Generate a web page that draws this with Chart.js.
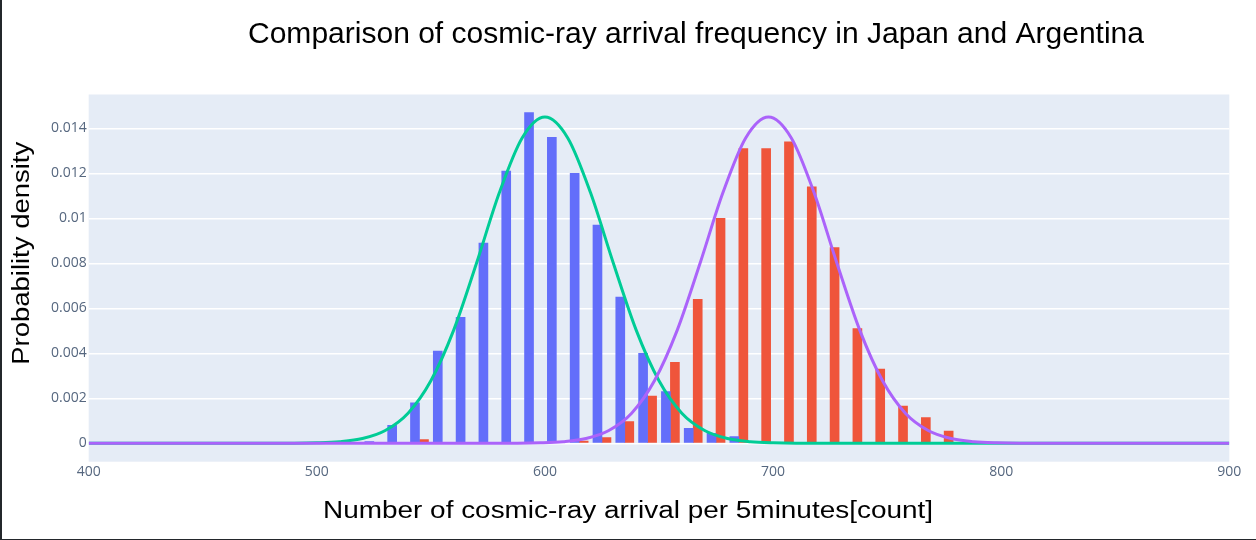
<!DOCTYPE html>
<html>
<head>
<meta charset="utf-8">
<script src="https://cdn.jsdelivr.net/npm/chart.js@4.4.1/dist/chart.umd.min.js"></script>
<style>
  html, body { margin: 0; padding: 0; background: #fff; }
  #wrap { width: 1256px; height: 540px; position: relative; }
</style>
</head>
<body>
<div id="wrap"><canvas id="myChart"></canvas></div>
<script>
// bin centres (10-count wide bins) and densities
const japanBins = [525, 535, 545, 555, 565, 575, 585, 595, 605, 615, 625, 635, 645, 655, 665, 675, 685];
const japanDensity = [0.00008, 0.0008, 0.0018, 0.0041, 0.0056, 0.0089, 0.0121, 0.0147, 0.0136, 0.0120, 0.0097, 0.0065, 0.0040, 0.0023, 0.00067, 0.00044, 0.0003];

const argentinaBins = [545, 615, 625, 635, 645, 655, 665, 675, 685, 695, 705, 715, 725, 735, 745, 755, 765, 775];
const argentinaDensity = [0.00017, 0.0001, 0.00025, 0.00096, 0.0021, 0.0036, 0.0064, 0.0100, 0.0131, 0.0131, 0.0134, 0.0114, 0.0087, 0.0051, 0.0033, 0.00165, 0.00114, 0.00054];

// fitted curves
const japanFitX = [400, 490, 500, 510, 520, 530, 540, 550, 560, 570, 580, 590, 600, 610, 620, 630, 640, 650, 660, 670, 680, 690, 700, 710, 900];
const japanFitY = [0, 0.000005, 0.00002, 0.00007, 0.00021, 0.00057, 0.00134, 0.00278, 0.00503, 0.0080, 0.01113, 0.01357, 0.0145, 0.01357, 0.01113, 0.0080, 0.00503, 0.00278, 0.00134, 0.00057, 0.00021, 0.00007, 0.00002, 0.000005, 0];

const argentinaFitX = [400, 588, 598, 608, 618, 628, 638, 648, 658, 668, 678, 688, 698, 708, 718, 728, 738, 748, 758, 768, 778, 788, 798, 808, 900];
const argentinaFitY = [0, 0.000005, 0.00002, 0.00007, 0.00021, 0.00057, 0.00134, 0.00278, 0.00503, 0.0080, 0.01113, 0.01357, 0.0145, 0.01357, 0.01113, 0.0080, 0.00503, 0.00278, 0.00134, 0.00057, 0.00021, 0.00007, 0.00002, 0.000005, 0];

const yTickValues = [0, 0.002, 0.004, 0.006, 0.008, 0.01, 0.012, 0.014];
const yTickLabels = ['0', '0.002', '0.004', '0.006', '0.008', '0.01', '0.012', '0.014'];

const chartTitle = 'Comparison of cosmic-ray arrival frequency in Japan and Argentina';
const xTitle = 'Number of cosmic-ray arrival per 5minutes[count]';
const yTitle = 'Probability density';

const toPoints = (xs, ys) => xs.map((x, i) => ({x: x, y: ys[i]}));

// text drawn to a given width (the screenshot fonts are a bit stretched)
function fitText(ctx, text, x, y, size, width, angle) {
  ctx.save();
  ctx.translate(x, y);
  ctx.rotate(angle || 0);
  ctx.font = size + 'px "Liberation Sans", Arial, sans-serif';
  const w = ctx.measureText(text).width;
  ctx.scale(width / w, 1);
  ctx.fillStyle = '#000';
  ctx.textAlign = 'center';
  ctx.textBaseline = 'alphabetic';
  ctx.fillText(text, 0, 0);
  ctx.restore();
}

const decor = {
  id: 'decor',
  beforeDraw(chart) {
    const {ctx, chartArea} = chart;
    ctx.save();
    ctx.fillStyle = '#E5ECF6';
    ctx.fillRect(chartArea.left, chartArea.top, chartArea.right - chartArea.left, chartArea.bottom - chartArea.top);
    ctx.restore();
  },
  afterDraw(chart) {
    const ctx = chart.ctx;
    fitText(ctx, chartTitle, 696, 43.3, 30, 896);
    fitText(ctx, xTitle, 628, 518.3, 23, 610);
    fitText(ctx, yTitle, 28.5, 253.3, 23, 223, -Math.PI / 2);
    ctx.save();
    ctx.fillStyle = '#23272b';
    ctx.fillRect(0, 0, 2, 540);
    ctx.fillRect(0, 539, 1256, 1);
    ctx.restore();
  }
};

const ctx = document.getElementById('myChart');

new Chart(ctx, {
  type: 'bar',
  data: {
    datasets: [
      {
        type: 'line',
        label: 'Argentina fit',
        data: toPoints(argentinaFitX, argentinaFitY),
        borderColor: '#AB63FA',
        borderWidth: 3,
        pointRadius: 0,
        cubicInterpolationMode: 'monotone',
        order: 1
      },
      {
        type: 'line',
        label: 'Japan fit',
        data: toPoints(japanFitX, japanFitY),
        borderColor: '#00CC96',
        borderWidth: 3,
        pointRadius: 0,
        cubicInterpolationMode: 'monotone',
        order: 2
      },
      {
        label: 'Japan',
        data: toPoints(japanBins, japanDensity),
        backgroundColor: '#636EFA',
        barThickness: 9,
        order: 3
      },
      {
        label: 'Argentina',
        data: toPoints(argentinaBins, argentinaDensity),
        backgroundColor: '#EF553B',
        barThickness: 9,
        order: 3
      }
    ]
  },
  options: {
    responsive: true,
    maintainAspectRatio: false,
    animation: false,
    layout: { padding: { left: 0, top: 94.5, right: 26.7, bottom: 0 } },
    plugins: {
      legend: { display: false },
      tooltip: { enabled: false }
    },
    scales: {
      x: {
        type: 'linear',
        min: 400,
        max: 900,
        offset: false,
        grid: { display: false, offset: false, drawTicks: false },
        border: { display: false },
        ticks: {
          stepSize: 100,
          padding: 2,
          color: '#56677f',
          font: { family: '"Open Sans", sans-serif', size: 14 }
        },
        afterFit(scale) { scale.height = 78.3; }
      },
      y: {
        min: -0.000818,
        max: 0.0155,
        grid: { color: '#ffffff', lineWidth: 1.5, drawTicks: false },
        border: { display: false },
        afterBuildTicks(scale) {
          scale.ticks = yTickValues.map(v => ({value: v}));
        },
        ticks: {
          padding: 2,
          color: '#56677f',
          font: { family: '"Open Sans", sans-serif', size: 14 },
          callback: (v, i) => yTickLabels[i]
        },
        afterFit(scale) { scale.width = 88.7; }
      }
    }
  },
  plugins: [decor]
});
</script>
</body>
</html>
